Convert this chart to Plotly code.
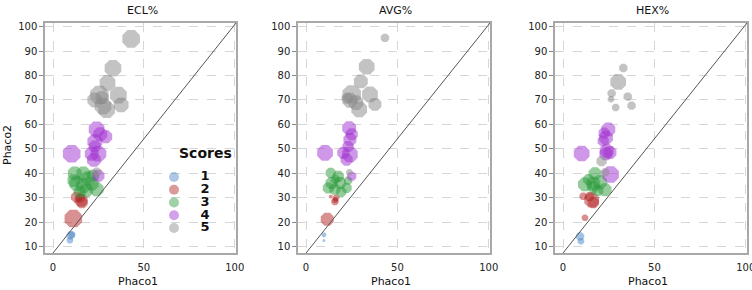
import plotly.graph_objects as go

# ---------------- data ----------------
panel_titles = ["ECL%", "AVG%", "HEX%"]
score_labels = ["1", "2", "3", "4", "5"]
score_colors = ["#4a86c8", "#b22222", "#2a9a3a", "#a030d0", "#888888"]

ecl_score = [1, 1, 1,
             2, 2, 2, 2, 2,
             3, 3, 3, 3, 3, 3, 3, 3, 3, 3, 3,
             4, 4, 4, 4, 4, 4, 4, 4, 4, 4,
             5, 5, 5, 5, 5, 5, 5, 5, 5, 5, 5]
ecl_phaco1 = [9.7, 9.3, 10.5,
              11.2, 13.0, 15.5, 16.0, 15.0,
              12.0, 16.7, 19.4, 13.0, 16.7, 21.3, 24.0, 11.5, 18.5, 14.8, 22.0,
              24.0, 26.0, 29.0, 23.0, 10.3, 21.3, 25.0, 22.5, 25.0, 23.0,
              43.0, 33.0, 30.0, 25.5, 23.0, 27.5, 29.5, 36.0, 37.5, 27.0, 24.0]
ecl_phaco2 = [14.6, 12.6, 15.0,
              21.5, 30.3, 29.0, 28.0, 30.0,
              40.0, 40.0, 38.0, 35.8, 35.0, 35.8, 33.5, 37.0, 33.0, 32.5, 39.0,
              58.0, 56.0, 55.0, 53.0, 48.0, 48.0, 48.0, 45.5, 39.0, 51.0,
              95.0, 83.0, 77.0, 72.0, 70.0, 67.5, 66.0, 72.0, 68.0, 71.0, 40.5]
ecl_size = [9, 7, 7,
            19, 12, 14, 12, 10,
            15, 15, 15, 16, 16, 15, 15, 14, 14, 13, 13,
            17, 15, 14, 16, 19, 15, 17, 15, 13, 13,
            19, 18, 17, 20, 16, 18, 18, 18, 16, 14, 10]

avg_score = [1, 1,
             2, 2, 2, 2, 2,
             3, 3, 3, 3, 3, 3, 3, 3, 3, 3,
             4, 4, 4, 4, 4, 4, 4, 4, 4,
             5, 5, 5, 5, 5, 5, 5, 5, 5, 5, 5]
avg_phaco1 = [9.8, 9.8,
              11.6, 15.8, 16.4, 13.5, 16.0,
              13.5, 17.7, 14.0, 18.6, 12.2, 15.8, 22.2, 19.3, 16.0, 23.0,
              23.6, 25.0, 24.0, 10.4, 20.4, 24.0, 22.2, 25.0, 23.0,
              43.2, 33.2, 30.0, 25.0, 35.0, 24.0, 27.3, 29.1, 37.7, 22.5, 23.7]
avg_phaco2 = [14.8, 12.5,
              21.2, 28.5, 30.0, 30.5, 29.0,
              40.2, 38.8, 36.0, 36.0, 34.0, 33.5, 34.0, 32.4, 37.5, 37.0,
              58.5, 56.0, 53.8, 48.4, 48.4, 47.7, 45.6, 38.8, 51.0,
              95.4, 83.6, 77.6, 72.3, 72.3, 69.9, 68.9, 66.2, 68.2, 70.7, 40.4]
avg_size = [5, 3,
            14, 8, 7, 4, 6,
            11, 12, 13, 13, 12, 12, 11, 11, 10, 9,
            15, 13, 14, 17, 13, 17, 13, 10, 12,
            9, 17, 15, 20, 17, 16, 16, 17, 14, 12, 7]

hex_score = [1, 1,
             2, 2, 2, 2, 2,
             3, 3, 3, 3, 3, 3, 3, 3,
             4, 4, 4, 4, 4, 4, 4, 4, 4,
             5, 5, 5, 5, 5, 5, 5, 5, 5]
hex_phaco1 = [9.3, 9.8,
              15.7, 16.6, 11.0, 12.0, 14.5,
              17.5, 12.0, 16.6, 20.2, 23.0, 16.6, 14.0, 19.0,
              24.8, 23.5, 22.0, 10.2, 23.9, 23.5, 25.7, 26.0, 22.5,
              33.0, 30.2, 26.6, 26.2, 35.4, 37.5, 28.8, 21.1, 23.0]
hex_phaco2 = [14.2, 12.2,
              29.0, 28.0, 30.6, 21.8, 30.5,
              39.8, 35.5, 35.8, 36.4, 33.3, 34.4, 37.5, 33.0,
              58.0, 54.6, 53.2, 48.1, 49.2, 48.0, 48.5, 39.5, 56.5,
              83.1, 77.4, 72.7, 70.3, 71.4, 67.7, 66.9, 45.0, 40.4]
hex_size = [9, 7,
            16, 12, 8, 7, 10,
            14, 15, 15, 15, 14, 13, 12, 12,
            15, 15, 12, 17, 15, 14, 14, 18, 12,
            9, 17, 9, 7, 9, 9, 8, 11, 9]

panels = [
    (ecl_score, ecl_phaco1, ecl_phaco2, ecl_size),
    (avg_score, avg_phaco1, avg_phaco2, avg_size),
    (hex_score, hex_phaco1, hex_phaco2, hex_size),
]

x_ticks = [0, 50, 100]
y_ticks = [10, 20, 30, 40, 50, 60, 70, 80, 90, 100]

# ---------------- layout geometry ----------------
W, H = 752, 290
x_domains_px = [(45, 236), (298, 490), (555, 747)]
y_domain_px = (23, 253)
x_range = [-4.4, 100.7]
y_range = [7.4, 101.5]

FONT = "DejaVu Sans"
fig = go.Figure()

for i, (sc, px, py, sz) in enumerate(panels):
    ax = "" if i == 0 else str(i + 1)
    for s_idx, lab in enumerate(score_labels):
        s_val = s_idx + 1
        xs = [px[k] for k in range(len(sc)) if sc[k] == s_val]
        ys = [py[k] for k in range(len(sc)) if sc[k] == s_val]
        ss = [sz[k] for k in range(len(sc)) if sc[k] == s_val]
        fig.add_trace(go.Scatter(
            x=xs, y=ys, mode="markers", showlegend=False,
            xaxis="x" + ax, yaxis="y" + ax,
            marker=dict(symbol="octagon", size=ss, color=score_colors[s_idx],
                        opacity=0.5, line=dict(width=0)),
        ))
    # diagonal reference line
    fig.add_shape(type="line", xref="x" + ax, yref="y" + ax,
                  x0=0, y0=y_range[0], x1=x_range[1], y1=y_range[1],
                  line=dict(color="#555555", width=1), layer="above")

    xd = [x_domains_px[i][0] / W, x_domains_px[i][1] / W]
    yd = [1 - y_domain_px[1] / H, 1 - y_domain_px[0] / H]
    common = dict(showline=True, mirror=True, linecolor="#a8a8a8", linewidth=1.5,
                  showgrid=True, gridcolor="#d6d6d6", griddash="dash", gridwidth=1,
                  zeroline=False, automargin=False, ticklabeloverflow="allow",
                  tickfont=dict(family=FONT, size=10, color="#222222"))
    fig.update_layout(**{
        "xaxis" + ax: dict(domain=xd, range=x_range, tickvals=x_ticks,
                           ticks="outside", ticklen=4, tickcolor="rgba(0,0,0,0)",
                           anchor="y" + ax, **common),
        "yaxis" + ax: dict(domain=yd, range=y_range, tickvals=y_ticks,
                           ticks="outside", ticklen=4, tickcolor="#888888",
                           anchor="x" + ax, **common),
    })
    # panel title
    fig.add_annotation(text=panel_titles[i], xref="paper", yref="paper",
                       x=(xd[0] + xd[1]) / 2 + 2 / W, y=1 - 11 / H, showarrow=False,
                       xanchor="center", yanchor="middle",
                       font=dict(family=FONT, size=11, color="#111111"))
    # x-axis title
    fig.add_annotation(text="Phaco1", xref="paper", yref="paper",
                       x=(xd[0] + xd[1]) / 2 - 3 / W, y=1 - 281 / H, showarrow=False,
                       xanchor="center", yanchor="middle",
                       font=dict(family=FONT, size=11, color="#111111"))

# y-axis title (first panel only)
fig.add_annotation(text="Phaco2", xref="paper", yref="paper", textangle=-90,
                   x=7 / W, y=1 - 145 / H, showarrow=False,
                   xanchor="center", yanchor="middle",
                   font=dict(family=FONT, size=11, color="#111111"))

# ---------------- custom legend ("Scores") ----------------
leg_scores = [1, 2, 3, 4, 5]
fig.add_trace(go.Scatter(
    x=[0] * len(leg_scores), y=leg_scores, mode="markers", showlegend=False,
    xaxis="x4", yaxis="y4",
    marker=dict(symbol="circle", size=10, color=score_colors, opacity=0.45),
))
fig.add_trace(go.Scatter(
    x=[1] * len(leg_scores), y=leg_scores, mode="text", showlegend=False,
    xaxis="x4", yaxis="y4", text=score_labels, textposition="middle center",
    textfont=dict(family=FONT, size=13, color="#111111", weight="bold"),
))
fig.update_layout(
    xaxis4=dict(domain=[165 / W, 215 / W], range=[-9 / 31, 41 / 31], visible=False,
                anchor="y4", fixedrange=True),
    yaxis4=dict(domain=[1 - 234.4 / H, 1 - 170.6 / H], range=[5.5, 0.5], visible=False,
                anchor="x4", fixedrange=True),
)
fig.add_annotation(text="<b>Scores</b>", xref="paper", yref="paper",
                   x=205 / W, y=1 - 153 / H, showarrow=False,
                   xanchor="center", yanchor="middle",
                   font=dict(family=FONT, size=14, color="#111111"))

fig.update_layout(
    width=W, height=H,
    margin=dict(l=0, r=0, t=0, b=0),
    paper_bgcolor="white", plot_bgcolor="rgba(0,0,0,0)",
    showlegend=False,
)

fig.write_html("out.html", config={"displayModeBar": False},
               post_script="document.body.style.margin='0';document.body.style.overflow='hidden';")
